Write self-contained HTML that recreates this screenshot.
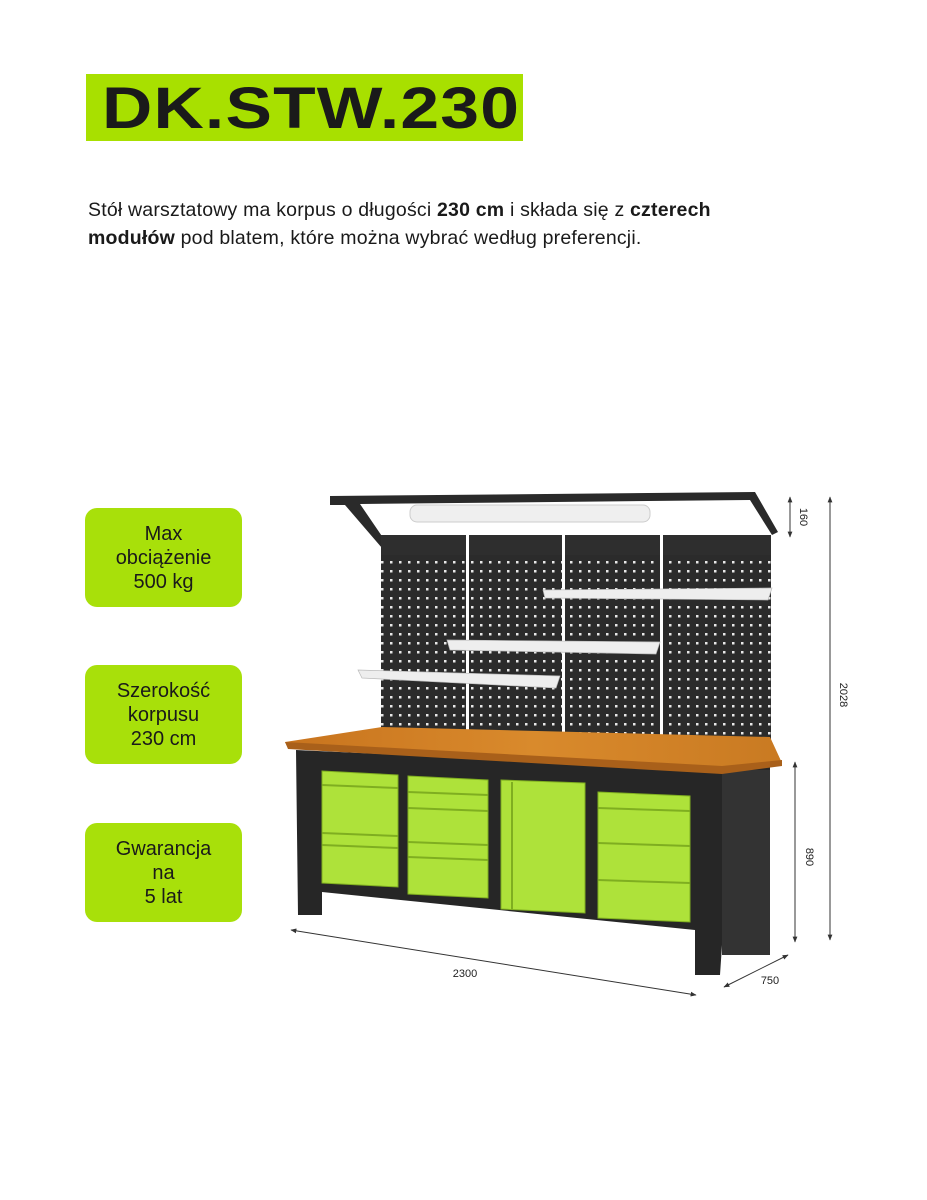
<!DOCTYPE html>
<html><head><meta charset="utf-8"><style>
body{margin:0;width:927px;height:1200px;background:#fff;position:relative;overflow:hidden;font-family:"Liberation Sans","DejaVu Sans",sans-serif;color:#1a1a1a}
.title{position:absolute;left:86px;top:74px;width:437px;height:67px;background:#a8e000}
.title span{position:absolute;left:16px;top:5px;font-size:58px;font-weight:bold;letter-spacing:1px;transform:scaleX(1.2);transform-origin:left;white-space:nowrap;line-height:60px}
.desc{position:absolute;left:88px;top:196px;font-size:19.5px;line-height:28px;width:690px;letter-spacing:0.2px}
.box{position:absolute;left:85px;width:157px;height:99px;background:#a8e00a;border-radius:12px;font-size:20px;line-height:24px;text-align:center;display:flex;align-items:center;justify-content:center}
</style></head><body>
<div class="title"><span>DK.STW.230</span></div>
<div class="desc">Stół warsztatowy ma korpus o długości <b>230 cm</b> i składa się z <b>czterech modułów</b> pod blatem, które można wybrać według preferencji.</div>
<div class="box" style="top:508px">Max<br>obciążenie<br>500 kg</div>
<div class="box" style="top:665px">Szerokość<br>korpusu<br>230 cm</div>
<div class="box" style="top:823px">Gwarancja<br>na<br>5 lat</div>
<svg width="927" height="1200" style="position:absolute;left:0;top:0">
<defs>
<pattern id="holes" x="0" y="0" width="9" height="9" patternUnits="userSpaceOnUse"><rect width="9" height="9" fill="#2b2b2b"/><rect x="3" y="3" width="2.5" height="2.5" fill="#e8e8e8"/></pattern>
<linearGradient id="wood" x1="0" y1="0" x2="1" y2="0"><stop offset="0" stop-color="#c8741e"/><stop offset="0.5" stop-color="#d98a2c"/><stop offset="1" stop-color="#c97a22"/></linearGradient>
<marker id="ar" viewBox="0 0 10 10" refX="9" refY="5" markerWidth="6" markerHeight="6" orient="auto-start-reverse"><path d="M0,1 L10,5 L0,9z" fill="#333"/></marker>
</defs>
<polygon points="330,496 755,492 778,532 772,535 750,500 360,504 388,545 382,548 345,505 330,505" fill="#2a2a2a"/>
<rect x="410" y="505" width="240" height="17" rx="7" fill="#efefef" stroke="#ccc"/>
<rect x="381" y="535" width="390" height="212" fill="url(#holes)"/>
<rect x="381" y="535" width="390" height="20" fill="#2e2e2e"/>
<g fill="#fff"><rect x="466" y="535" width="3" height="212"/><rect x="562" y="535" width="3" height="212"/><rect x="660" y="535" width="3" height="212"/></g>
<polygon points="543,590 772,588 768,600 545,598" fill="#eee" stroke="#bbb" stroke-width=".7"/>
<polygon points="447,640 660,642 656,654 450,650" fill="#eee" stroke="#bbb" stroke-width=".7"/>
<polygon points="358,670 560,676 556,688 362,678" fill="#eee" stroke="#bbb" stroke-width=".7"/>
<polygon points="296,750 722,770 770,760 770,955 722,945 720,975 695,975 695,930 322,892 322,915 298,915" fill="#262626"/>
<rect x="722" y="770" width="48" height="185" fill="#333"/>
<polygon points="285,742 382,727 770,737 782,763 722,770 288,748" fill="url(#wood)"/>
<polygon points="285,742 722,766 782,760 782,766 722,774 288,749" fill="#a9601a"/>
<g fill="#aee23a" stroke="#7fae20" stroke-width="1">
<polygon points="322,771 398,775 398,887 322,883"/>
<polygon points="408,776 488,780 488,898 408,894"/>
<polygon points="501,780 585,783 585,913 501,909"/>
<polygon points="598,792 690,796 690,922 598,918"/>
</g>
<g stroke="#7fae20" stroke-width="2">
<line x1="322" y1="785" x2="398" y2="788"/><line x1="322" y1="833" x2="398" y2="836"/><line x1="322" y1="845" x2="398" y2="848"/>
<line x1="408" y1="792" x2="488" y2="795"/><line x1="408" y1="808" x2="488" y2="811"/><line x1="408" y1="842" x2="488" y2="845"/><line x1="408" y1="857" x2="488" y2="860"/>
<line x1="598" y1="808" x2="690" y2="811"/><line x1="598" y1="843" x2="690" y2="846"/><line x1="598" y1="880" x2="690" y2="883"/>
<line x1="512" y1="782" x2="512" y2="910"/>
</g>
<g stroke="#333" stroke-width="1" fill="none" marker-start="url(#ar)" marker-end="url(#ar)">
<line x1="790" y1="497" x2="790" y2="537"/><line x1="830" y1="497" x2="830" y2="940"/><line x1="795" y1="762" x2="795" y2="942"/>
<line x1="291" y1="930" x2="696" y2="995"/><line x1="724" y1="987" x2="788" y2="955"/>
</g>
<g font-size="11" fill="#222">
<text x="800" y="517" transform="rotate(90 800 517)" text-anchor="middle">160</text>
<text x="840" y="695" transform="rotate(90 840 695)" text-anchor="middle">2028</text>
<text x="806" y="857" transform="rotate(90 806 857)" text-anchor="middle">890</text>
<text x="465" y="977" text-anchor="middle">2300</text>
<text x="770" y="984" text-anchor="middle">750</text>
</g>
</svg>
</body></html>
